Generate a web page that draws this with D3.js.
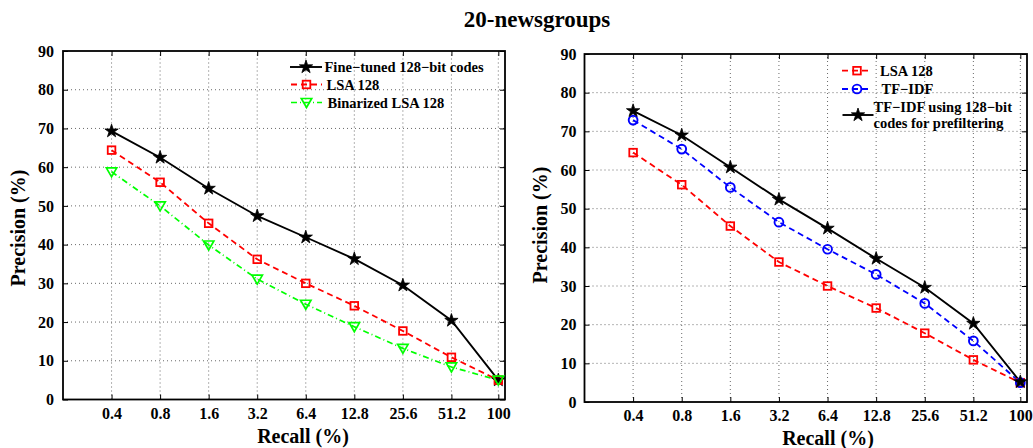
<!DOCTYPE html>
<html><head><meta charset="utf-8">
<script src="https://cdn.jsdelivr.net/npm/d3@7"></script>
<style>
body{margin:0;background:#fff;}
svg{display:block;font-family:"Liberation Serif","Times New Roman",serif;font-weight:bold;}
</style></head>
<body><svg id="c" width="1033" height="448"></svg>
<script>
const title = "20-newsgroups";
const recall = [0.4, 0.8, 1.6, 3.2, 6.4, 12.8, 25.6, 51.2, 100];
const xTickLabels = ["0.4","0.8","1.6","3.2","6.4","12.8","25.6","51.2","100"];
const yTicks = [0,10,20,30,40,50,60,70,80,90];

const fineTuned128 = [69.3, 62.5, 54.5, 47.4, 41.9, 36.3, 29.5, 20.4, 5.0];
const lsa128 = [64.4, 56.1, 45.5, 36.2, 30.0, 24.2, 17.7, 10.9, 5.0];
const binarizedLsa128 = [58.8, 50.0, 39.9, 31.1, 24.6, 18.8, 13.2, 8.4, 5.0];

const lsa128Right = [64.5, 56.2, 45.5, 36.2, 30.0, 24.3, 17.8, 10.9, 5.0];
const tfidf = [72.9, 65.4, 55.5, 46.5, 39.5, 33.0, 25.5, 15.8, 5.0];
const tfidfPrefilter = [75.3, 69.0, 60.7, 52.4, 44.9, 37.1, 29.6, 20.3, 5.2];

const svg = d3.select("#c");

svg.append("text").attr("x",537).attr("y",27).attr("text-anchor","middle")
  .attr("font-size",23).text(title);

function marker(g, type, x, y){
  if(type==="star"){
    g.append("path").attr("d", d3.symbol(d3.symbolStar, 55)())
      .attr("transform",`translate(${x},${y})`).attr("fill","#000").attr("stroke","#000").attr("stroke-width",0.8);
  } else if(type==="square"){
    g.append("rect").attr("x",x-3.8).attr("y",y-3.8).attr("width",7.6).attr("height",7.6)
      .attr("fill","none").attr("stroke","#ff0000").attr("stroke-width",1.8);
  } else if(type==="circle"){
    g.append("circle").attr("cx",x).attr("cy",y).attr("r",4.4)
      .attr("fill","none").attr("stroke","#0000ff").attr("stroke-width",1.9);
  } else if(type==="tri"){
    g.append("path").attr("d",`M${x-5.2},${y-4} L${x+5.2},${y-4} L${x},${y+5} Z`)
      .attr("fill","none").attr("stroke","#00ff00").attr("stroke-width",1.7);
  }
}

function panel(cfg){
  const g = svg.append("g");
  const x = d3.scaleLog().base(2).domain([0.2,110]).range([cfg.x0,cfg.x1]);
  const y = d3.scaleLinear().domain([0,90]).range([cfg.y0,cfg.y1]);
  // grid
  const grid = g.append("g").attr("stroke","#6a6a6a").attr("stroke-width",1).attr("stroke-dasharray","1,3");
  yTicks.filter(t=>t>0 && t<90).forEach(t=>{
    grid.append("line").attr("x1",cfg.x0).attr("x2",cfg.x1).attr("y1",y(t)).attr("y2",y(t));
  });
  recall.forEach(r=>{
    grid.append("line").attr("x1",x(r)).attr("x2",x(r)).attr("y1",cfg.y0).attr("y2",cfg.y1);
  });
  // axes via d3
  const xa = g.append("g").attr("transform",`translate(0,${cfg.y0})`)
    .call(d3.axisBottom(x).tickValues(recall).tickSize(-5).tickFormat((d,i)=>xTickLabels[i]).tickPadding(11));
  const xt = g.append("g").attr("transform",`translate(0,${cfg.y1})`)
    .call(d3.axisTop(x).tickValues(recall).tickSize(-5).tickFormat(""));
  const ya = g.append("g").attr("transform",`translate(${cfg.x0},0)`)
    .call(d3.axisLeft(y).tickValues(yTicks).tickSize(-5).tickPadding(cfg.ypad));
  const yr = g.append("g").attr("transform",`translate(${cfg.x1},0)`)
    .call(d3.axisRight(y).tickValues(yTicks).tickSize(-5).tickFormat(""));
  [xa,xt,ya,yr].forEach(a=>{
    a.select(".domain").remove();
    a.selectAll(".tick line").attr("stroke","#000").attr("stroke-width",1);
    a.selectAll("text").attr("font-size",16).attr("font-family",'"Liberation Serif",serif').attr("font-weight","bold").attr("fill","#000");
  });
  xa.selectAll("text").attr("dy","0.71em").attr("y",8);
  g.append("rect").attr("x",cfg.x0).attr("y",cfg.y1).attr("width",cfg.x1-cfg.x0).attr("height",cfg.y0-cfg.y1)
    .attr("fill","none").attr("stroke","#000").attr("stroke-width",1.8);
  // series
  const line = d3.line().x((d,i)=>x(recall[i])).y(d=>y(d));
  cfg.series.forEach(s=>{
    g.append("path").attr("d",line(s.values)).attr("fill","none").attr("stroke",s.color)
      .attr("stroke-width",s.width).attr("stroke-dasharray",s.dash);
  });
  cfg.series.forEach(s=>{
    s.values.forEach((v,i)=>marker(g,s.marker,x(recall[i]),y(v)));
  });
  // labels
  g.append("text").attr("x",cfg.xlabX).attr("y",cfg.xlabY).attr("text-anchor","middle").attr("font-size",20).text("Recall (%)");
  g.append("text").attr("transform",`translate(${cfg.ylabX},${cfg.ylabY}) rotate(-90)`).attr("text-anchor","middle")
    .attr("dy","0.35em").attr("font-size",20).text("Precision (%)");
  // legend
  cfg.legend.forEach(l=>{
    const s = cfg.series[l.idx];
    g.append("line").attr("x1",l.lx0).attr("x2",l.lx1).attr("y1",l.y).attr("y2",l.y)
      .attr("stroke",s.color).attr("stroke-width",s.width).attr("stroke-dasharray",s.dash);
    marker(g,s.marker,(l.lx0+l.lx1)/2,l.y);
    l.text.forEach((t,k)=>{
      g.append("text").attr("x",l.tx).attr("y",l.ty+k*16.6).attr("dy","0.35em").attr("font-size",14.5).text(t);
    });
  });
}

panel({
  x0:63, x1:505, y0:399.5, y1:51, ypad:9,
  xlabX:303, xlabY:443, ylabX:18, ylabY:228,
  series:[
    {values:fineTuned128, color:"#000", width:1.9, dash:null, marker:"star"},
    {values:lsa128, color:"#ff0000", width:1.8, dash:"6,4", marker:"square"},
    {values:binarizedLsa128, color:"#00ff00", width:1.7, dash:"6,3,1,3", marker:"tri"}
  ],
  legend:[
    {idx:0, lx0:290, lx1:322, y:67, tx:324.5, ty:67, text:["Fine−tuned 128−bit codes"]},
    {idx:1, lx0:291, lx1:322, y:84.5, tx:326.5, ty:84.5, text:["LSA 128"]},
    {idx:2, lx0:291, lx1:322, y:102.5, tx:327.5, ty:102.5, text:["Binarized LSA 128"]}
  ]
});

panel({
  x0:584.5, x1:1027, y0:402, y1:54, ypad:8,
  xlabX:828, xlabY:445, ylabX:540, ylabY:225,
  series:[
    {values:lsa128Right, color:"#ff0000", width:1.8, dash:"6,4", marker:"square"},
    {values:tfidf, color:"#0000ff", width:1.8, dash:"6,4", marker:"circle"},
    {values:tfidfPrefilter, color:"#000", width:1.9, dash:null, marker:"star"}
  ],
  legend:[
    {idx:0, lx0:842, lx1:872, y:70.7, tx:880, ty:70.7, text:["LSA 128"]},
    {idx:1, lx0:842, lx1:872, y:89, tx:881.5, ty:89, text:["TF−IDF"]},
    {idx:2, lx0:842.5, lx1:873.5, y:115, tx:873.5, ty:106.7, text:["TF−IDF using 128−bit","codes for prefiltering"]}
  ]
});
</script></body></html>
